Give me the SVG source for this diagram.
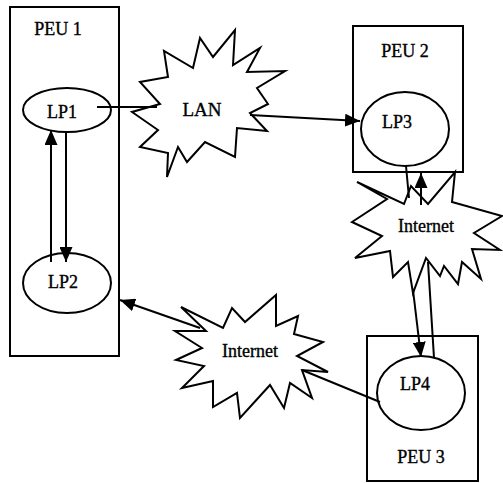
<svg xmlns="http://www.w3.org/2000/svg" width="503" height="483" viewBox="0 0 503 483">
<style>
.box{fill:none;stroke:#000;stroke-width:2}
.ell{fill:#fff;stroke:#000;stroke-width:2}
.star{fill:#fff;stroke:#000;stroke-width:2;stroke-linejoin:miter}
.conn{stroke:#000;stroke-width:2;fill:none}
text{font-family:"Liberation Serif","Times New Roman",serif;font-size:18px;fill:#000;stroke:#000;stroke-width:0.35;text-anchor:middle}
</style>
<defs>
<marker id="arr" viewBox="0 0 15 13" markerWidth="15" markerHeight="13" refX="15" refY="6.5" orient="auto" markerUnits="userSpaceOnUse">
<path d="M0,0 L15,6.5 L0,13 z" fill="#000"/>
</marker>
</defs>
<rect width="503" height="483" fill="#fff"/>
<g id="peu1"><rect class="box" x="10" y="7" width="109" height="349"/><text x="58" y="35">PEU 1</text></g>
<g id="peu2"><rect class="box" x="353" y="26" width="110" height="146"/><text x="405" y="57">PEU 2</text></g>
<g id="peu3"><rect class="box" x="367" y="336" width="111" height="145"/><text x="421" y="463">PEU 3</text></g>
<g id="lan"><polygon class="star" points="235,30 233,65 260,48 247,72 285,71 257,88 268,104 250,113 267,131 237,128 235,157 205,142 187,162 178,147 167,177 168,153 140,147 158,130 132,112 160,104 140,82 168,77 164,51 193,68 200,38 213,57"/><text x="202" y="116" style="font-size:19px">LAN</text></g>
<g id="internet1"><polygon class="star" points="357,182 404,204 411,186 428,204 455,172 452,202 502,216 474,233 500,250 472,249 481,279 462,262 458,284 444,266 440,276 426,258 413,293 408,262 393,277 390,251 355,258 382,236 352,222 387,199"/><text x="426" y="232">Internet</text></g>
<g id="internet2"><polygon class="star" points="181,307 223,328 232,308 245,322 276,295 276,326 298,316 294,334 323,342 297,356 328,372 302,370 312,398 290,383 284,408 270,385 240,418 237,393 213,407 213,381 182,388 204,366 176,360 202,348 175,331 206,331"/><text x="250" y="357">Internet</text></g>
<g id="lp1"><ellipse class="ell" cx="67" cy="110" rx="44" ry="22"/><text x="62" y="118">LP1</text></g>
<g id="lp2"><ellipse class="ell" cx="67" cy="283" rx="44" ry="30"/><text x="63" y="288">LP2</text></g>
<g id="lp3"><ellipse class="ell" cx="405" cy="129" rx="44" ry="37"/><text x="397" y="128">LP3</text></g>
<g id="lp4"><ellipse class="ell" cx="421" cy="393" rx="44" ry="37"/><text x="415" y="390">LP4</text></g>
<g id="connectors">
<line class="conn" x1="97" y1="107" x2="157" y2="107"/>
<line class="conn" x1="250" y1="115" x2="360" y2="121" marker-end="url(#arr)"/>
<line class="conn" x1="51" y1="262" x2="51" y2="130" marker-end="url(#arr)"/>
<line class="conn" x1="66" y1="132" x2="66" y2="262" marker-end="url(#arr)"/>
<line class="conn" x1="406" y1="166" x2="409" y2="198"/>
<line class="conn" x1="421" y1="205" x2="421" y2="173" marker-end="url(#arr)"/>
<line class="conn" x1="413" y1="290" x2="421" y2="357" marker-end="url(#arr)"/>
<line class="conn" x1="434" y1="358" x2="428" y2="262"/>
<line class="conn" x1="200" y1="328" x2="120" y2="300" marker-end="url(#arr)"/>
<line class="conn" x1="380" y1="402" x2="302" y2="370"/>
</g>
</svg>
